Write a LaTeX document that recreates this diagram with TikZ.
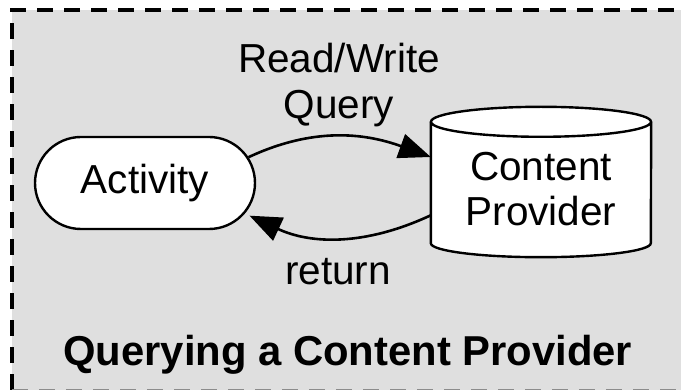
\documentclass[tikz,border=0pt]{standalone}
\usepackage{fontspec}
\setmainfont{Liberation Sans}
\usetikzlibrary{arrows.meta,shapes.misc,calc}
\definecolor{panelgray}{RGB}{223,223,223}
\begin{document}
\begin{tikzpicture}[x=1pt,y=1pt,
  lbl/.style={font=\fontsize{40.5}{45}\selectfont, inner sep=0pt},
  titlelbl/.style={font=\fontsize{41.8}{45}\selectfont\bfseries, inner sep=0pt},
  shapeline/.style={line width=2.4pt},
  actbox/.style={rounded rectangle, shapeline, draw=black, fill=white,
    minimum width=220pt, minimum height=92pt, inner sep=0pt,
    font=\fontsize{40.5}{45}\selectfont},
  cylbody/.style={rectangle, draw=none, minimum width=220pt,
    minimum height=121pt, inner sep=0pt},
  conn/.style={line width=2.6pt, -{Triangle[length=32pt,width=25pt]}},
  paneledge/.style={draw=black, line width=3.2pt,
    dash pattern=on 16pt off 11pt}
]
\useasboundingbox (0,0) rectangle (681,-390);

% grey panel with its dashed frame; right side runs off the page
\fill[panelgray] (12,-10) rectangle (681,-390);
\draw[paneledge] (12,-390) -- (12,-10) -- (681,-10);
\begin{scope}
  \clip (0,0) rectangle (681,-390);
  \draw[paneledge, draw=black!45] (12,-391) -- (681,-391);
\end{scope}

% activity
\node[actbox] (act) at (145,-183) {Activity};

% content provider drum
\node[cylbody] (cp) at (541,-182.5) {};
\fill[white] (cp.north west) -- (cp.south west)
  arc[start angle=180,end angle=360,x radius=110pt,y radius=14pt]
  -- (cp.north east)
  arc[start angle=0,end angle=180,x radius=110pt,y radius=15pt] -- cycle;
\draw[shapeline] (cp.north west) -- (cp.south west)
  arc[start angle=180,end angle=360,x radius=110pt,y radius=14pt]
  -- (cp.north east);
\draw[shapeline] (cp.north) ellipse[x radius=110pt,y radius=15pt];
\node[lbl, align=center] (cpt) at (541,-189) {Content\\Provider};

% requests and replies
\draw[conn] (act.14) to[out=25,in=160]
  ($(cp.north west)!0.29!(cp.south west)$);
\draw[conn, shorten >=5pt] ($(cp.north west)!0.77!(cp.south west)$)
  to[out=205,in=-25] (act.-17);

% labels
\node[lbl, anchor=base] (rw) at (339,-73) {Read/Write};
\node[lbl, anchor=base] (qy) at (339,-119) {Query};
\node[lbl, anchor=base] (ret) at (338,-285) {return};
\node[titlelbl, anchor=base west] (title) at (63,-366) {Querying a Content Provider};
\end{tikzpicture}
\end{document}
